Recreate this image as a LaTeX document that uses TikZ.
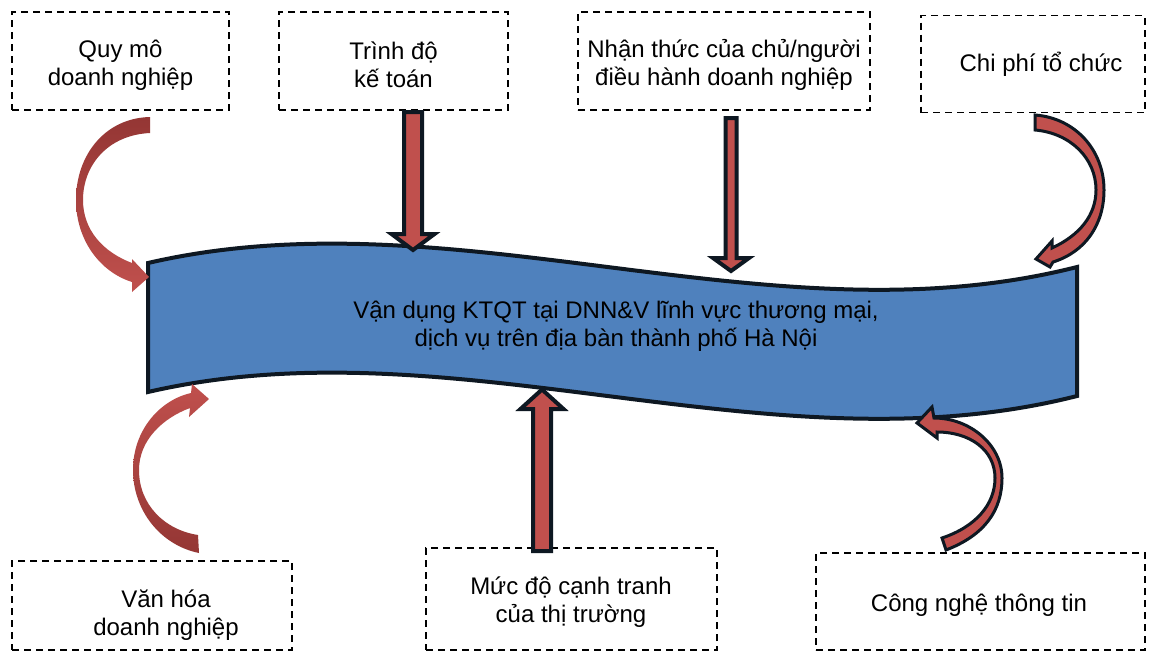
\documentclass[tikz,border=0pt]{standalone}
\usepackage{fontspec}
\setmainfont{Liberation Sans}
\definecolor{bannerblue}{HTML}{4F81BD}
\definecolor{outl}{HTML}{0E1822}
\definecolor{arrred}{HTML}{C0504D}
\definecolor{arrdark}{HTML}{943634}
\tikzset{
  dbox/.style={draw=black, line width=1.3pt, dash pattern=on 7pt off 5pt, inner sep=0pt},
  txt/.style={font=\fontsize{24}{28}\selectfont, align=center, text=black, inner sep=0pt},
  bannerstyle/.style={fill=bannerblue, draw=outl, line width=4pt, line join=miter},
  blockarrow/.style={fill=arrred, draw=outl, line width=4pt, line join=miter},
  curvedout/.style={fill=arrred, draw=outl, line width=3pt, line join=miter},
}
\begin{document}
\begin{tikzpicture}[x=1pt,y=-1pt]
\useasboundingbox (0,0) rectangle (1156,653);
\fill[white] (0,0) rectangle (1156,653);

% dashed boxes
\node[dbox, minimum width=217pt, minimum height=98pt] (b1) at (120.5,61) {};
\node[dbox, minimum width=229pt, minimum height=98pt] (b2) at (393.5,61) {};
\node[dbox, minimum width=292pt, minimum height=98pt] (b3) at (724,61) {};
\node[dbox, minimum width=224pt, minimum height=97pt] (b4) at (1033,64) {};
\node[dbox, minimum width=280pt, minimum height=89pt] (b5) at (152,605.5) {};
\node[dbox, minimum width=291pt, minimum height=102pt] (b6) at (571.5,599) {};
\node[dbox, minimum width=329pt, minimum height=97pt] (b7) at (980.5,601.5) {};

% banner
\path[bannerstyle] (148,263) .. controls (455,192) and (770,345) .. (1077,267)
  -- (1077,396) .. controls (770,474) and (455,321) .. (148,392) -- cycle;

% straight block arrows
\coordinate (aAtop) at (413,112);
\coordinate (aAtip) at (413,250);
\path[blockarrow] ([xshift=-9pt]aAtop) -- ([xshift=9pt]aAtop) -- (422,234) -- (434.5,234)
  -- (aAtip) -- (391.5,234) -- (404,234) -- cycle;

\coordinate (aBtop) at (731,118);
\coordinate (aBtip) at (731,271);
\path[blockarrow] ([xshift=-5.5pt]aBtop) -- ([xshift=5.5pt]aBtop) -- (736.5,258) -- (749,258)
  -- (aBtip) -- (713,258) -- (725.5,258) -- cycle;

\coordinate (aCbot) at (542,551);
\coordinate (aCtip) at (542,389.5);
\path[blockarrow] ([xshift=-9pt]aCbot) -- ([xshift=9pt]aCbot) -- (551,409) -- (563.5,409)
  -- (aCtip) -- (520.5,409) -- (533,409) -- cycle;

% left top curved arrow (gradient, no outline)
\shade[top color=arrdark, bottom color=arrred]
  (150,117) .. controls (105,118) and (76,155) .. (76,200)
  .. controls (76,240) and (100,272) .. (132,282)
  -- (132,292) -- (149,277) -- (132,259) -- (132,263)
  .. controls (103,252) and (83,230) .. (83,200)
  .. controls (83,165) and (108,135) .. (150,133) -- cycle;

% left bottom curved arrow
\shade[top color=arrred, bottom color=arrdark]
  (199,553) .. controls (160,545) and (133,510) .. (133,470)
  .. controls (133,430) and (160,400) .. (191,393)
  -- (192,384) -- (209,399) -- (189,417) -- (190,408)
  .. controls (163,418) and (139,440) .. (139,470)
  .. controls (139,505) and (165,530) .. (198,535) -- cycle;

% right top curved arrow
\path[curvedout]
  (1035,115) .. controls (1075,118) and (1104,150) .. (1104,190)
  .. controls (1104,225) and (1085,252) .. (1053,262)
  -- (1050,267) -- (1036,259) -- (1052,241) -- (1052,248)
  .. controls (1080,235) and (1096,215) .. (1096,190)
  .. controls (1096,158) and (1070,133) .. (1035,130) -- cycle;

% right bottom curved arrow
\path[curvedout]
  (946,550) .. controls (985,535) and (1002,510) .. (1002,478)
  .. controls (1002,445) and (970,418) .. (934,418)
  -- (932,407) -- (917,423) -- (937,438) -- (937,432)
  .. controls (970,432) and (995,450) .. (995,478)
  .. controls (995,505) and (975,527) .. (942,538) -- cycle;

% texts
\node[txt] (t1) at (120.5,65) {Quy mô\\doanh nghiệp};
\node[txt] (t2) at (393.5,65) {Trình độ\\kế toán};
\node[txt] (t3) at (724,65) {Nhận thức của chủ/người\\điều hành doanh nghiệp};
\node[txt] (t4) at (1041,64) {Chi phí tổ chức};
\node[txt] (t5) at (166,615) {Văn hóa\\doanh nghiệp};
\node[txt] (t6) at (571,602) {Mức độ cạnh tranh\\của thị trường};
\node[txt] (t7) at (979,605) {Công nghệ thông tin};
\node[txt] (banner) at (616,326) {Vận dụng KTQT tại DNN\&V lĩnh vực thương mại,\\dịch vụ trên địa bàn thành phố Hà Nội};
\end{tikzpicture}
\end{document}
